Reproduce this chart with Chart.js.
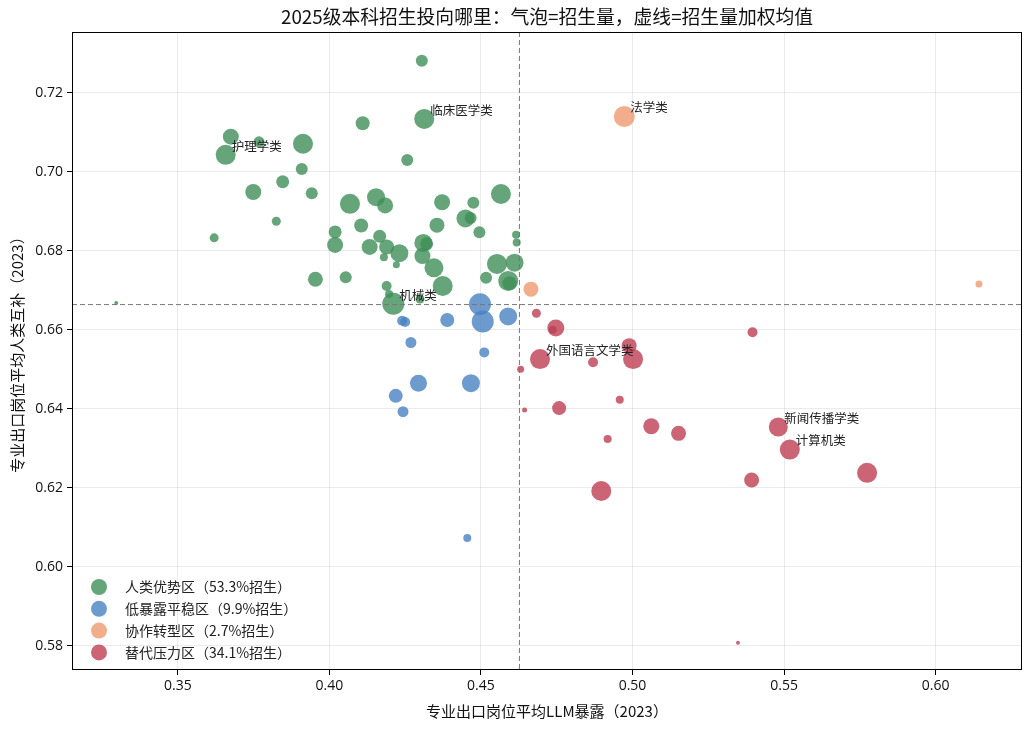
<!DOCTYPE html>
<html>
<head>
<meta charset="utf-8">
<script src="https://cdn.jsdelivr.net/npm/chart.js@4"></script>
<style>
  body { margin: 0; background: #fff; }
  #wrap { width: 1033px; height: 729px; }
</style>
</head>
<body>
<div id="wrap"><canvas id="chart"></canvas></div>
<script>
// Zone names (legend)
const zoneNames = ['人类优势区（53.3%招生）', '低暴露平稳区（9.9%招生）', '协作转型区（2.7%招生）', '替代压力区（34.1%招生）'];

// 人类优势区
const greenX = [0.4305, 0.4313, 0.4110, 0.3675, 0.3658, 0.3768, 0.3913, 0.4257, 0.3909, 0.3846,
  0.3749, 0.3942, 0.4068, 0.4154, 0.4184, 0.4372, 0.4475, 0.4566, 0.3825, 0.3620,
  0.4105, 0.4355, 0.4449, 0.4466, 0.4495, 0.4616, 0.4618, 0.4019, 0.4019, 0.4133,
  0.4166, 0.4189, 0.4231, 0.4180, 0.4221, 0.4310, 0.4321, 0.4307, 0.4345, 0.4553,
  0.4611, 0.4590, 0.4594, 0.4517, 0.3954, 0.4054, 0.4189, 0.4374, 0.4211, 0.4197,
  0.4299, 0.3297];
const greenY = [0.7281, 0.7134, 0.7123, 0.7089, 0.7043, 0.7076, 0.7071, 0.7030, 0.7007, 0.6975,
  0.6949, 0.6946, 0.6919, 0.6936, 0.6915, 0.6923, 0.6922, 0.6944, 0.6875, 0.6833,
  0.6864, 0.6865, 0.6882, 0.6883, 0.6847, 0.6841, 0.6821, 0.6848, 0.6815, 0.6810,
  0.6837, 0.6810, 0.6794, 0.6784, 0.6765, 0.6820, 0.6818, 0.6787, 0.6757, 0.6767,
  0.6770, 0.6724, 0.6718, 0.6732, 0.6728, 0.6733, 0.6711, 0.6711, 0.6666, 0.6691,
  0.6678, 0.6668];
const greenR = [6, 10, 7, 8, 10, 5.5, 10, 6, 6, 6.5,
  8, 6, 10, 9, 8, 8, 6, 10, 4.5, 4.5,
  7, 7.5, 9, 6, 6, 4, 4, 6.5, 8, 8,
  6.5, 7.5, 9, 4, 3.5, 9, 6.5, 8, 9.5, 10,
  9, 10, 7, 6, 7.5, 6, 5, 10, 11, 4,
  4.5, 2];

// 低暴露平稳区
const blueX = [0.4497, 0.4506, 0.4590, 0.4240, 0.4250, 0.4389, 0.4269, 0.4511, 0.4294, 0.4467, 0.4219, 0.4243, 0.4455];
const blueY = [0.6665, 0.6621, 0.6634, 0.6623, 0.6620, 0.6625, 0.6568, 0.6543, 0.6465, 0.6465, 0.6433, 0.6393, 0.6073];
const blueR = [11, 11, 9, 5, 5, 7, 5.5, 5, 8.5, 9, 7, 5.5, 4];

// 协作转型区
const orangeX = [0.4973, 0.4665, 0.6143];
const orangeY = [0.7140, 0.6703, 0.6716];
const orangeR = [10.5, 7.5, 3.5];

// 替代压力区
const redX = [0.4683, 0.4747, 0.4737, 0.4695, 0.4631, 0.4644, 0.4758, 0.4870, 0.4989, 0.5002,
  0.4958, 0.5062, 0.5152, 0.4918, 0.4897, 0.5396, 0.5481, 0.5519, 0.5393, 0.5774, 0.5348];
const redY = [0.6642, 0.6605, 0.6600, 0.6526, 0.6500, 0.6397, 0.6402, 0.6518, 0.6560, 0.6526,
  0.6423, 0.6356, 0.6338, 0.6324, 0.6192, 0.6594, 0.6354, 0.6297, 0.6220, 0.6238, 0.5808];
const redR = [4.5, 8.5, 4, 10, 3.5, 2.5, 7, 5, 7.5, 10,
  4, 8, 7.5, 4, 10, 5, 9.5, 10, 7.5, 10, 2];

// Labelled majors: zone index, point index, name
const tagNames = ['临床医学类', '护理学类', '机械类', '法学类', '外国语言文学类', '新闻传播学类', '计算机类'];
const tagZone = [0, 0, 0, 2, 3, 3, 3];
const tagIndex = [1, 4, 48, 0, 3, 16, 17];

// Weighted means (dashed lines)
const meanX = 0.4627;
const meanY = 0.6664;

// Axes
const xTicks = [0.35, 0.40, 0.45, 0.50, 0.55, 0.60];
const yTicks = [0.58, 0.60, 0.62, 0.64, 0.66, 0.68, 0.70, 0.72];

const colors = ['rgba(62,143,87,0.8)', 'rgba(74,130,192,0.8)', 'rgba(240,160,120,0.85)', 'rgba(190,62,82,0.8)'];
const FONT = '"Noto Sans CJK SC", "Noto Sans", sans-serif';
const TICK_FONT = '"Open Sans", "Noto Sans CJK SC", sans-serif';

function toPoints(xs, ys, rs) {
  return xs.map((x, i) => ({ x: x, y: ys[i], r: rs[i] }));
}

const zones = [
  toPoints(greenX, greenY, greenR),
  toPoints(blueX, blueY, blueR),
  toPoints(orangeX, orangeY, orangeR),
  toPoints(redX, redY, redR)
];

const decor = {
  id: 'decor',
  afterDatasetsDraw(chart) {
    const ctx = chart.ctx;
    const a = chart.chartArea;
    const xs = chart.scales.x, ys = chart.scales.y;
    ctx.save();
    ctx.strokeStyle = '#777';
    ctx.lineWidth = 1;
    ctx.setLineDash([5, 3]);
    const px = xs.getPixelForValue(meanX);
    const py = ys.getPixelForValue(meanY);
    ctx.beginPath();
    ctx.moveTo(px, a.top); ctx.lineTo(px, a.bottom);
    ctx.moveTo(a.left, py); ctx.lineTo(a.right, py);
    ctx.stroke();
    ctx.restore();
  },
  afterDraw(chart) {
    const ctx = chart.ctx;
    const a = chart.chartArea;
    const xs = chart.scales.x, ys = chart.scales.y;
    ctx.save();
    // frame
    ctx.strokeStyle = '#000';
    ctx.lineWidth = 1;
    ctx.strokeRect(a.left + 0.5, a.top + 0.5, a.right - a.left - 1, a.bottom - a.top - 1);

    // point labels
    ctx.fillStyle = '#222';
    ctx.font = '12.5px ' + FONT;
    ctx.textAlign = 'left';
    ctx.textBaseline = 'middle';
    tagNames.forEach((name, i) => {
      const p = zones[tagZone[i]][tagIndex[i]];
      ctx.fillText(name, xs.getPixelForValue(p.x) + 6, ys.getPixelForValue(p.y) - 9);
    });

    // title
    ctx.fillStyle = '#111';
    ctx.textAlign = 'center';
    ctx.font = '18.8px ' + FONT;
    ctx.fillText('2025级本科招生投向哪里：气泡=招生量，虚线=招生量加权均值', (a.left + a.right) / 2, 17);

    // axis titles
    ctx.font = '15px ' + FONT;
    ctx.fillText('专业出口岗位平均LLM暴露（2023）', (a.left + a.right) / 2, 711);
    ctx.save();
    ctx.translate(17, (a.top + a.bottom) / 2);
    ctx.rotate(-Math.PI / 2);
    ctx.fillText('专业出口岗位平均人类互补（2023）', 0, 0);
    ctx.restore();

    // legend
    ctx.font = '14px ' + FONT;
    ctx.textAlign = 'left';
    zoneNames.forEach((name, i) => {
      const y = a.bottom - 83 + i * 21.8;
      ctx.fillStyle = colors[i];
      ctx.beginPath();
      ctx.arc(a.left + 27, y, 8, 0, Math.PI * 2);
      ctx.fill();
      ctx.fillStyle = '#222';
      ctx.fillText(name, a.left + 53, y);
    });
    ctx.restore();
  }
};

new Chart(document.getElementById('chart'), {
  type: 'bubble',
  data: {
    datasets: zones.map((pts, i) => ({
      label: zoneNames[i],
      data: pts,
      backgroundColor: colors[i],
      borderWidth: 0
    }))
  },
  options: {
    responsive: true,
    maintainAspectRatio: false,
    animation: false,
    layout: { padding: { left: 0, right: 11, top: 32, bottom: 0 } },
    plugins: {
      legend: { display: false },
      tooltip: { enabled: false }
    },
    scales: {
      x: {
        type: 'linear',
        min: 0.3151,
        max: 0.6285,
        afterBuildTicks: s => { s.ticks = xTicks.map(v => ({ value: v })); },
        afterFit: s => { s.height = 59; },
        grid: { color: 'rgba(0,0,0,0.08)', tickColor: '#000', tickLength: 5 },
        border: { display: false },
        ticks: {
          padding: 3,
          color: '#111',
          font: { family: TICK_FONT, size: 14 },
          callback: v => Number(v).toFixed(2)
        }
      },
      y: {
        type: 'linear',
        min: 0.5739,
        max: 0.7354,
        afterBuildTicks: s => { s.ticks = yTicks.map(v => ({ value: v })); },
        afterFit: s => { s.width = 72; },
        grid: { color: 'rgba(0,0,0,0.08)', tickColor: '#000', tickLength: 5 },
        border: { display: false },
        ticks: {
          padding: 4,
          color: '#111',
          font: { family: TICK_FONT, size: 14 },
          callback: v => Number(v).toFixed(2)
        }
      }
    }
  },
  plugins: [decor]
});
</script>
</body>
</html>
